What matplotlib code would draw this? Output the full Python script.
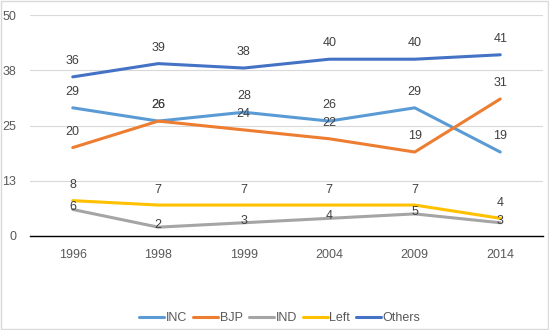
import matplotlib
matplotlib.use("Agg")
import matplotlib.pyplot as plt
from matplotlib.patches import Rectangle

years = ["1996", "1998", "1999", "2004", "2009", "2014"]
inc = [29, 26, 28, 26, 29, 19]
bjp = [20, 26, 24, 22, 19, 31]
ind = [6, 2, 3, 4, 5, 3]
left = [8, 7, 7, 7, 7, 4]
others = [36, 39, 38, 40, 40, 41]
yticks = [0, 12.5, 25, 37.5, 50]
ytick_labels = ["0", "13", "25", "38", "50"]

# (name, values, colour, label offset in points)
series = [
    ("INC", inc, "#5B9BD5", 11.5),
    ("BJP", bjp, "#ED7D31", 11.5),
    ("IND", ind, "#A5A5A5", 1.5),
    ("Left", left, "#FFC000", 11),
    ("Others", others, "#4472C4", 11.5),
]

plt.rcParams['font.family'] = ['Liberation Sans', 'DejaVu Sans']

fig = plt.figure(figsize=(5.49, 3.30), dpi=100)
ax = fig.add_axes([30/549, 1-236/330, 513/549, 221/330])

x = list(range(len(years)))
for name, vals, col, off in series:
    ax.plot(x, vals, color=col, lw=2.2, label=name, solid_capstyle='round')
for name, vals, col, off in series:
    for xi, v in zip(x, vals):
        ax.annotate(str(v), (xi, v), xytext=(0, off), textcoords='offset points',
                    ha='center', va='center', fontsize=9, color='#404040')

ax.set_xlim(-0.5, len(years) - 0.5)
ax.set_ylim(0, 50)
ax.set_xticks(x)
ax.set_xticklabels(years)
ax.set_yticks(yticks)
ax.set_yticklabels(ytick_labels)
ax.tick_params(axis='both', length=0, labelsize=9, labelcolor='#595959')
ax.tick_params(axis='x', pad=9)
ax.tick_params(axis='y', pad=10)
ax.grid(axis='y', color='#D9D9D9', lw=0.8)
ax.set_axisbelow(True)
for s in ['top', 'right', 'left']:
    ax.spines[s].set_visible(False)
ax.spines['bottom'].set_color('#000000')
ax.spines['bottom'].set_linewidth(1)

fig.legend(loc='center', bbox_to_anchor=(280/549, 1-318/330), ncol=5, frameon=False,
           fontsize=9, handlelength=2.0, handletextpad=0.15, columnspacing=0.45,
           labelcolor='#595959')

fig.patches.append(Rectangle((0.001, 0.002), 0.997, 0.995, transform=fig.transFigure,
                             fill=False, edgecolor='#D9D9D9', lw=1))

fig.savefig("out.png", dpi=100)
